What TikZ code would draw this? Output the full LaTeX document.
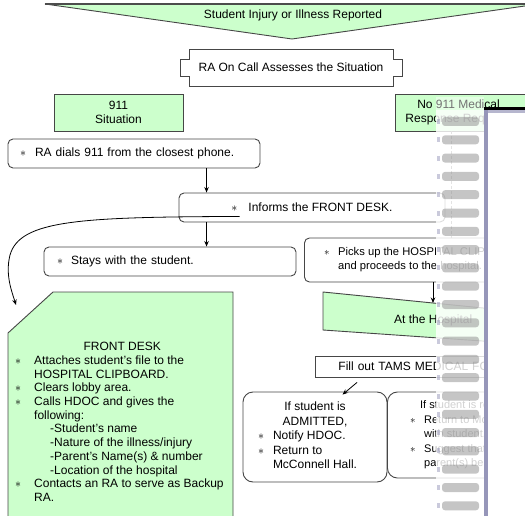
\documentclass[tikz,border=0pt]{standalone}
\usepackage{fontspec}
\setmainfont{Liberation Sans}
\usetikzlibrary{arrows.meta,calc}
\definecolor{lgreen}{RGB}{204,255,204}
\definecolor{edgec}{RGB}{70,70,70}
\definecolor{coil}{RGB}{150,150,185}
\newcommand{\bul}[1]{\makebox[#1][l]{$\ast$}}
\begin{document}
\begin{tikzpicture}[x=1pt,y=-1pt,
  font=\fontsize{12}{14.5}\selectfont,
  rbox/.style={draw=edgec, line width=0.9pt, fill=white, rounded corners=5pt, inner ysep=0pt},
  gbox/.style={draw=edgec, line width=0.9pt, fill=lgreen, inner sep=0pt},
  txt/.style={inner sep=0pt},
  arr/.style={-{Stealth[length=5.5pt,width=4.5pt]}, line width=0.8pt}]
\useasboundingbox (0,0) rectangle (525,516);
\clip (0,0) rectangle (525,516);

% top merge triangle
\filldraw[fill=lgreen, draw=edgec, line width=0.9pt] (45,4) -- (539,4) -- (292,39) -- cycle;
\draw[gray!60!black, line width=1.8pt] (45,4) -- (539,4);
\node[txt] (rep) at (293,15) {Student Injury or Illness Reported};

% RA on call plaque
\filldraw[fill=white, draw=edgec, line width=0.9pt]
  (189,49) -- (393,49) -- (393,59) -- (402,59) -- (402,76) -- (393,76) -- (393,86)
  -- (189,86) -- (189,76) -- (180,76) -- (180,59) -- (189,59) -- cycle;
\node[txt] (assess) at (291,67.5) {RA On Call Assesses the Situation};

% 911 / no 911
\node[gbox, minimum width=129pt, minimum height=37pt, align=center] (sit) at (118.5,112.5) {911\\Situation};
\node[gbox, minimum width=140pt, minimum height=37pt, anchor=west] (no911) at (395,112.5) {};
\node[txt, align=center] (no911t) at (458.5,112.5) {No 911 Medical\\Response Required};

% 911 branch
\node[rbox, minimum width=252pt, minimum height=29pt, inner xsep=12pt, text width=228pt, align=left] (dial) at (134,153.5)
  {\bul{15pt}RA dials 911 from the closest phone.};
\node[rbox, minimum width=266pt, minimum height=29pt, align=center] (informs) at (312,207.5)
  {\bul{17pt}Informs the FRONT DESK.};
\node[rbox, minimum width=252pt, minimum height=29pt, inner xsep=13pt, text width=226pt, align=left] (stays) at (170,261.5)
  {\bul{14pt}Stays with the student.};

% no 911 branch
\node[rbox, minimum width=240pt, minimum height=44pt, inner xsep=14pt, anchor=west, font=\fontsize{11.2}{14}\selectfont] (picks) at (304,260)
  {\begin{tabular}{@{}p{14pt}@{}l@{}}$\ast$ & Picks up the HOSPITAL CLIPBOARD\\ & and proceeds to the hospital.\end{tabular}};
\filldraw[fill=lgreen, draw=edgec, line width=0.9pt] (323,292) -- (540,313.7) -- (540,345) -- (323,330) -- cycle;
\coordinate (hosptop) at (433,303);
\node[txt, anchor=west] (hospt) at (394,320) {At the Hospital};
\node[draw=edgec, line width=0.9pt, fill=white, minimum width=225pt, minimum height=21pt, inner xsep=23pt, text width=179pt, align=left, anchor=west] (fill) at (315,366.5)
  {Fill out TAMS MEDICAL FORM};

\node[rbox, rounded corners=10pt, minimum width=144pt, minimum height=90pt, inner xsep=15pt] (adm) at (315,437)
  {\begin{tabular}{@{}p{15pt}@{}p{99pt}@{}}
   \multicolumn{2}{@{}c@{}}{If student is}\\
   \multicolumn{2}{@{}c@{}}{ADMITTED,}\\
   $\ast$ & Notify HDOC.\\
   $\ast$ & Return to\\
   & McConnell Hall.\end{tabular}};
\node[rbox, rounded corners=10pt, minimum width=160pt, minimum height=86pt, inner xsep=15pt, anchor=west, font=\fontsize{11}{14.5}\selectfont] (rel) at (387,435)
  {\begin{tabular}{@{}p{14pt}@{}l@{}}
   \multicolumn{2}{@{}l@{}}{\hspace*{10pt}If student is released,}\\
   $\ast$ & Return to McConnell\\
   & with student.\\
   $\ast$ & Suggest that\\
   & parent(s) be called.\end{tabular}};

% front desk
\filldraw[fill=lgreen, draw=edgec, line width=0.9pt] (53,292) -- (233,292) -- (233,530) -- (8,530) -- (8,333) -- cycle;
\node[txt, anchor=north west, font=\fontsize{12}{13.7}\selectfont] (fd) at (15,341)
  {\begin{tabular}{@{}p{19pt}@{}p{195pt}@{}}
   \multicolumn{2}{@{}c@{}}{FRONT DESK}\\
   $\ast$ & Attaches student's file to the\\
   & HOSPITAL CLIPBOARD.\\
   $\ast$ & Clears lobby area.\\
   $\ast$ & Calls HDOC and gives the\\
   & following:\\
   & \hspace*{16pt}-Student's name\\
   & \hspace*{16pt}-Nature of the illness/injury\\
   & \hspace*{16pt}-Parent's Name(s) \& number\\
   & \hspace*{16pt}-Location of the hospital\\
   $\ast$ & Contacts an RA to serve as Backup\\
   & RA.\end{tabular}};

% connectors
\draw[arr] ($(dial.south west)+(199,0)$) -- ($(informs.north west)+(28,0)$);
\draw[arr] ($(informs.south west)+(28,0)$) -- ($(stays.north west)+(163,0)$);
\coordinate (cs) at ($(informs.south west)+(61,-6)$);
\coordinate (ce) at (16,305);
\draw[arr] (cs) .. controls (80,217) and (20,220) .. (10,255) .. controls (5,275) and (12,292) .. (ce);
\draw[arr] ($(picks.south west)+(129,0)$) -- (hosptop);
\draw[arr] ($(fill.south west)+(42,5)$) -- ($(adm.north west)+(100,3)$);
\draw[black!60, densely dashed] ($(no911.south west)+(56,0)$) -- ($(picks.north west)+(147,0)$);

% spiral binding overlay
\fill[white, opacity=0.45] (436,97) rectangle (484,110);
\fill[white, opacity=0.82] (436,110) rectangle (484,516);
\foreach \i in {0,...,22} {
  \fill[black!50, opacity=0.45, rounded corners=3pt] (442,{117+18.3*\i}) rectangle (479,{126+18.3*\i});
  \fill[coil, opacity=0.5] (437,{119+18.3*\i}) rectangle (440,{124+18.3*\i});
}
\fill[white] (484,108) rectangle (525,516);
\fill[coil] (484,108) rectangle (487.5,516);
\fill[black] (484,107.5) rectangle (525,110.5);
\fill[coil!70] (487.5,110.5) rectangle (525,113.5);
\end{tikzpicture}
\end{document}
